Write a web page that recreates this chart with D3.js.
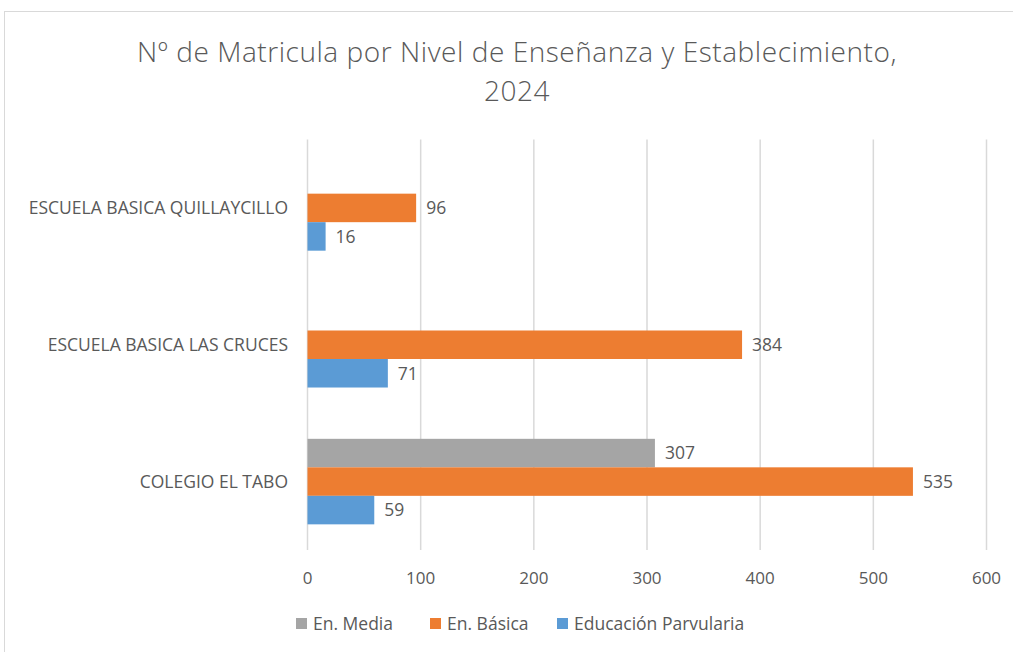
<!DOCTYPE html>
<meta charset="utf-8">
<style>
    body { margin: 0; background: #fff; }
    text { font-family: "Open Sans", sans-serif; fill: #595959; }
</style>
<svg width="1013" height="652"></svg>
<script src="https://d3js.org/d3.v7.min.js"></script>
<script>
    // data
    var categories = ["ESCUELA BASICA QUILLAYCILLO", "ESCUELA BASICA LAS CRUCES", "COLEGIO EL TABO"];
    var seriesNames = ["En. Media", "En. Básica", "Educación Parvularia"];
    var media = [null, null, 307];
    var basica = [96, 384, 535];
    var parvularia = [16, 71, 59];
    var ticks = [0, 100, 200, 300, 400, 500, 600];
    var colors = ["#a5a5a5", "#ed7d31", "#5b9bd5"];

    var values = [media, basica, parvularia];

    var svg = d3.select("svg");

    // chart border
    svg.append("rect")
        .attr("x", 4.5).attr("y", 11.5)
        .attr("width", 1020).attr("height", 660)
        .attr("fill", "none")
        .attr("stroke", "#d9d9d9");

    var plotLeft = 307.5, plotRight = 986.5, plotTop = 139.5, plotBottom = 550;

    var x = d3.scaleLinear().domain([0, 600]).range([plotLeft, plotRight]);

    var y0 = d3.scaleBand().domain(categories).range([plotTop, plotBottom])
        .paddingInner(0.375).paddingOuter(0.1875);

    var y1 = d3.scaleBand().domain(seriesNames).range([0, y0.bandwidth()]);

    // title
    var title = svg.append("text")
        .attr("text-anchor", "middle")
        .attr("font-size", 28)
        .attr("letter-spacing", 0.55)
        .style("font-weight", 300);
    title.append("tspan").attr("x", 517).attr("y", 62).text("Nº de Matricula por Nivel de Enseñanza y Establecimiento,");
    title.append("tspan").attr("x", 517).attr("y", 101).text("2024");

    // gridlines
    svg.append("g")
        .selectAll("line")
        .data(ticks)
        .enter().append("line")
        .attr("x1", function (d) { return x(d); })
        .attr("x2", function (d) { return x(d); })
        .attr("y1", plotTop)
        .attr("y2", plotBottom)
        .attr("stroke", "#d9d9d9")
        .attr("stroke-width", 1.5);

    // tick labels
    svg.append("g")
        .selectAll("text")
        .data(ticks)
        .enter().append("text")
        .attr("x", function (d) { return x(d); })
        .attr("y", 584)
        .attr("text-anchor", "middle")
        .attr("font-size", 17)
        .text(function (d) { return d; });

    // category labels
    svg.append("g")
        .selectAll("text")
        .data(categories)
        .enter().append("text")
        .attr("x", 288)
        .attr("y", function (d) { return y0(d) + y0.bandwidth() / 2; })
        .attr("dy", "0.35em")
        .attr("text-anchor", "end")
        .attr("font-size", 17.5)
        .text(function (d) { return d; });

    // bars
    var rows = [];
    categories.forEach(function (c, i) {
        seriesNames.forEach(function (s, j) {
            if (values[j][i] != null) rows.push({ cat: c, series: s, value: values[j][i], color: colors[j] });
        });
    });

    svg.append("g")
        .selectAll("rect")
        .data(rows)
        .enter().append("rect")
        .attr("x", x(0))
        .attr("y", function (d) { return y0(d.cat) + y1(d.series); })
        .attr("width", function (d) { return x(d.value) - x(0); })
        .attr("height", y1.bandwidth())
        .attr("fill", function (d) { return d.color; });

    svg.append("g")
        .selectAll("text")
        .data(rows)
        .enter().append("text")
        .attr("x", function (d) { return x(d.value) + 10; })
        .attr("y", function (d) { return y0(d.cat) + y1(d.series) + y1.bandwidth() / 2; })
        .attr("dy", "0.36em")
        .attr("font-size", 17.5)
        .text(function (d) { return d.value; });

    // legend
    var legendX = [296, 430, 557];
    var legend = svg.append("g")
        .selectAll("g")
        .data(seriesNames)
        .enter().append("g")
        .attr("transform", function (d, i) { return "translate(" + legendX[i] + ",624)"; });

    legend.append("rect")
        .attr("x", 0).attr("y", -6)
        .attr("width", 11).attr("height", 11)
        .attr("fill", function (d, i) { return colors[i]; });

    legend.append("text")
        .attr("x", 17)
        .attr("dy", "0.35em")
        .attr("font-size", 17.5)
        .text(function (d) { return d; });
</script>
